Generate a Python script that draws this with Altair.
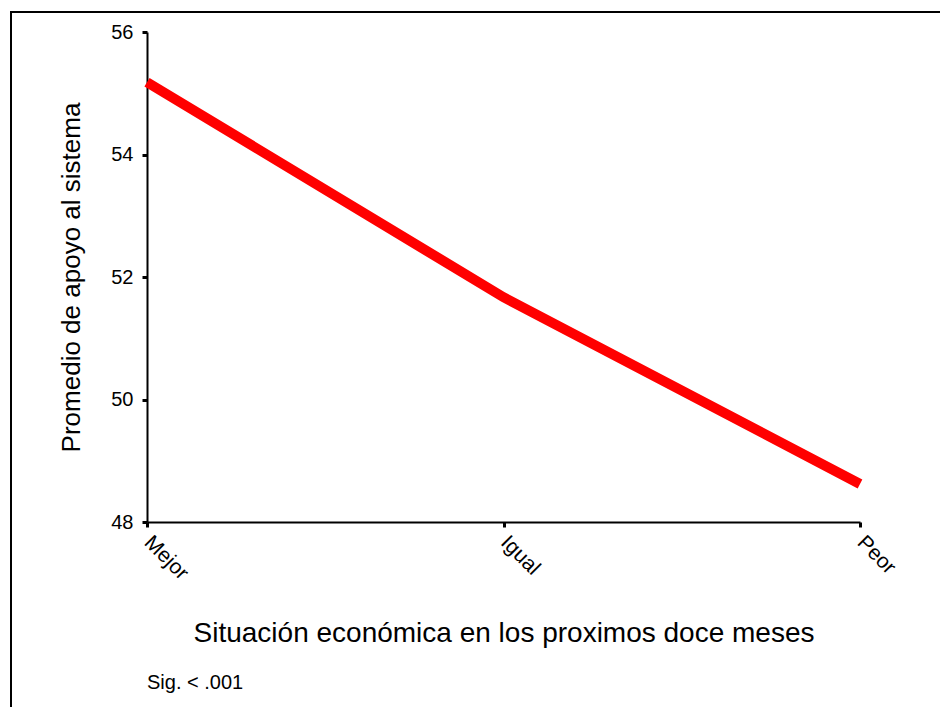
import altair as alt
import pandas as pd

categories = ["Mejor", "Igual", "Peor"]
values = [55.18, 51.67, 48.62]
y_ticks = [48, 50, 52, 54, 56]
note = "Sig. < .001"

df = pd.DataFrame({"cat": categories, "val": values})
frame_df = pd.DataFrame({"k": [0]})
note_df = pd.DataFrame({"t": [note]})

FONT = "Liberation Sans"

frame = alt.Chart(frame_df).mark_rect(
    fill=None, stroke="black", strokeWidth=2
).encode(
    x=alt.value(-136), x2=alt.value(900),
    y=alt.value(-20), y2=alt.value(800)
)

line = alt.Chart(df).mark_line(color="#ff0000", strokeWidth=10, strokeCap="butt").encode(
    x=alt.X("cat:N", sort=categories,
            scale=alt.Scale(type="point", padding=0),
            axis=alt.Axis(title="Situación económica en los proximos doce meses",
                          labelAngle=45, labelAlign="left", labelBaseline="middle",
                          labelPadding=12, labelFontSize=21, labelFont=FONT,
                          labelColor="black",
                          titleFontSize=28, titleFont=FONT, titleFontWeight="normal",
                          titleColor="black", titleY=111, titleBaseline="middle",
                          tickSize=5, tickWidth=3, tickColor="black",
                          domainColor="black", domainWidth=2, grid=False)),
    y=alt.Y("val:Q",
            scale=alt.Scale(domain=[48, 56], nice=False, zero=False),
            axis=alt.Axis(title="Promedio de apoyo al sistema", values=y_ticks,
                          labelFontSize=20, labelFont=FONT, labelColor="black",
                          labelPadding=9,
                          titleFontSize=26, titleFont=FONT, titleFontWeight="normal",
                          titleColor="black", titleX=-76, titleBaseline="middle",
                          tickSize=5, tickWidth=3, tickColor="black",
                          domainColor="black", domainWidth=2, grid=False))
)

txt = alt.Chart(note_df).mark_text(
    align="left", baseline="middle", fontSize=20, font=FONT, color="black"
).encode(
    x=alt.value(0), y=alt.value(651), text="t:N"
)

chart = alt.layer(frame, line, txt).properties(
    width=713, height=490,
    autosize=alt.AutoSizeParams(type="none"),
    padding={"left": 139, "top": 24, "right": 80, "bottom": 185},
).configure_view(stroke=None)

chart.save("out.html", embed_options={"renderer": "svg", "actions": False})
